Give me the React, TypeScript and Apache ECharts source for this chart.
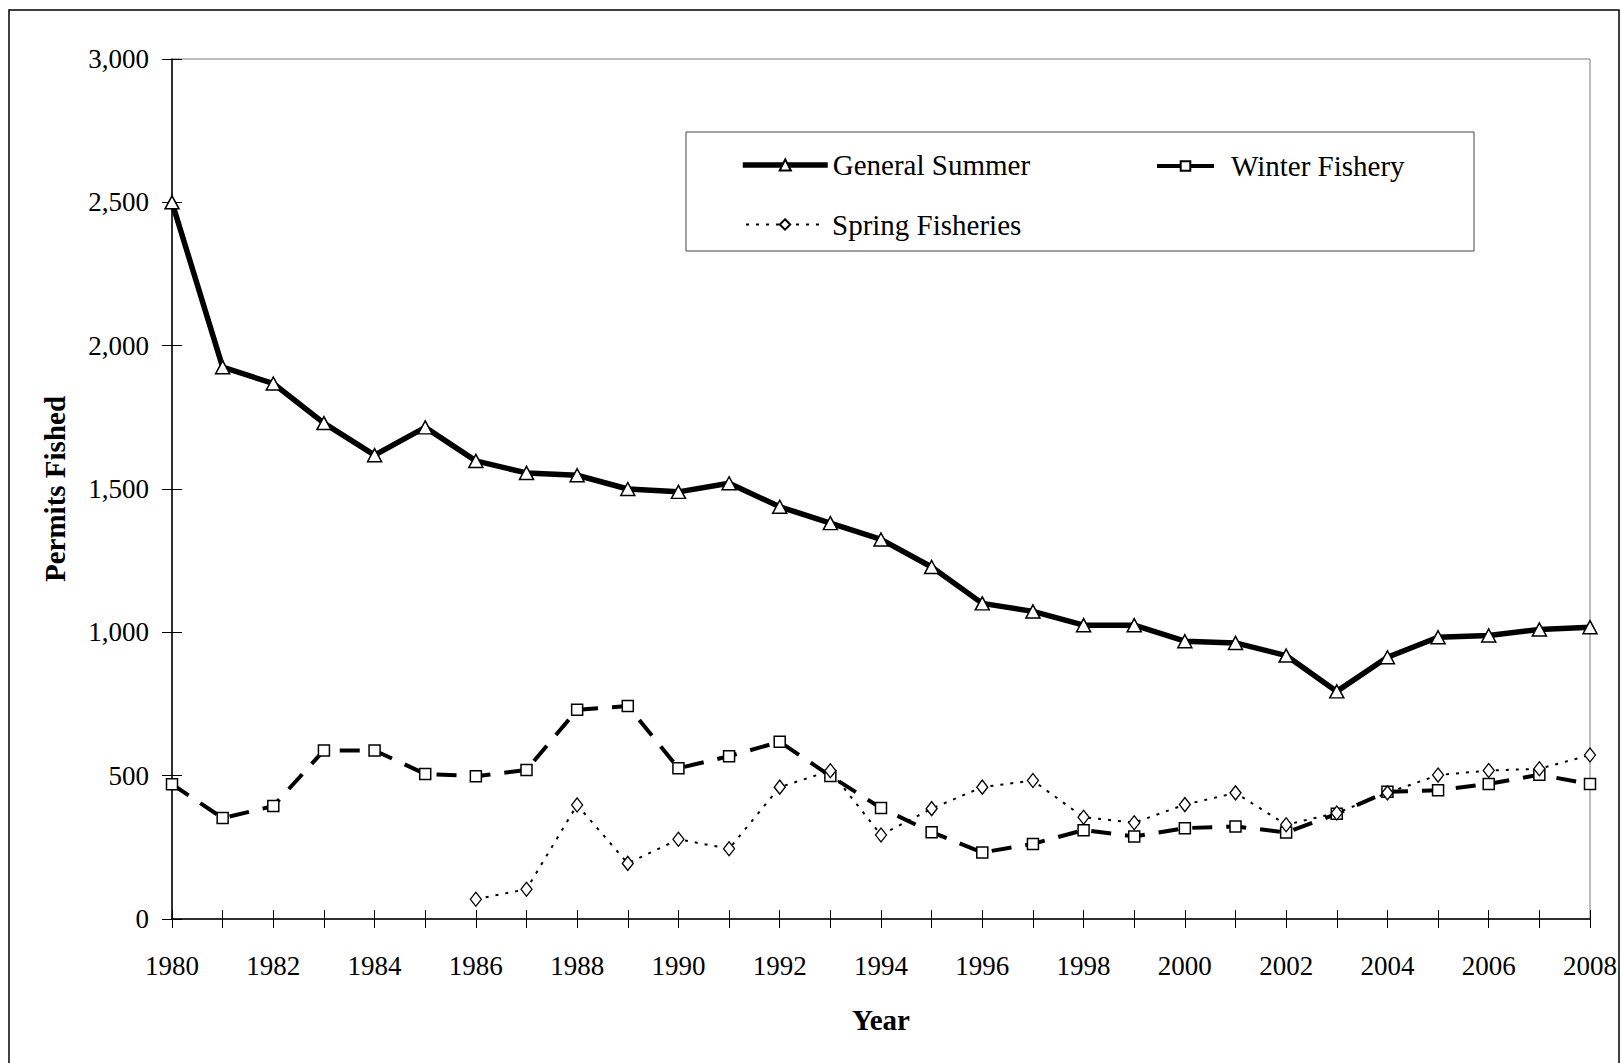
import React, { useEffect, useRef } from "react";
import * as echarts from "echarts";

const years = [
  "1980", "1981", "1982", "1983", "1984", "1985", "1986", "1987", "1988", "1989",
  "1990", "1991", "1992", "1993", "1994", "1995", "1996", "1997", "1998", "1999",
  "2000", "2001", "2002", "2003", "2004", "2005", "2006", "2007", "2008",
];

const generalSummer = [
  2500, 1925, 1868, 1730, 1618, 1715, 1598, 1556, 1548, 1500,
  1490, 1520, 1438, 1381, 1324, 1228, 1101, 1073, 1025, 1025,
  969, 963, 919, 794, 913, 983, 989, 1010, 1018,
];

const winterFishery = [
  470, 352, 394, 588, 588, 506, 498, 520, 730, 743,
  526, 568, 618, 499, 387, 303, 232, 262, 310, 288,
  317, 323, 302, 367, 444, 449, 471, 503, 471,
];

const springFisheries = [
  null, null, null, null, null, null, 69, 104, 398, 194,
  278, 245, 460, 517, 293, 385, 460, 483, 355, 336,
  399, 440, 329, 370, 440, 502, 518, 524, 572,
];

const yTicks = [0, 500, 1000, 1500, 2000, 2500, 3000];

const FONT = '"Liberation Serif", "Times New Roman", serif';

export default function App() {
  const ref = useRef<HTMLDivElement>(null);

  useEffect(() => {
    const chart = echarts.init(ref.current!, undefined, { renderer: "svg" });
    const yMin = yTicks[0];
    const yMax = yTicks[yTicks.length - 1];
    const yStep = yTicks[1] - yTicks[0];

    const legendText = { fontFamily: FONT, fontSize: 29, color: "#000" };

    const option: any = {
      animation: false,
      backgroundColor: "#fff",
      grid: {
        left: 172,
        right: 32,
        top: 59,
        bottom: 144,
        show: true,
        borderColor: "#7a7a7a",
        borderWidth: 1,
      },
      graphic: [
        {
          type: "rect",
          shape: { x: 9, y: 10, width: 1610, height: 1100 },
          style: { fill: "none", stroke: "#000", lineWidth: 1.5 },
          silent: true,
        },
        {
          type: "rect",
          shape: { x: 686, y: 132, width: 788, height: 119 },
          style: { fill: "#fff", stroke: "#444", lineWidth: 1 },
          silent: true,
          z: 0,
        },
      ],
      legend: [
        {
          data: ["General Summer"],
          left: 740,
          top: 150.5,
          padding: 0,
          itemWidth: 85,
          itemHeight: 14,
          selectedMode: false,
          lineStyle: { type: "solid", width: 5.5, color: "#000" },
          textStyle: legendText,
          z: 5,
        },
        {
          data: ["Winter Fishery"],
          left: 1155,
          top: 151.5,
          padding: 0,
          itemWidth: 57,
          itemHeight: 12,
          selectedMode: false,
          lineStyle: { type: "solid", width: 4, color: "#000" },
          textStyle: { ...legendText, padding: [0, 0, 0, 12] },
          z: 5,
        },
        {
          data: ["Spring Fisheries"],
          left: 745,
          top: 210,
          padding: 0,
          itemWidth: 78,
          itemHeight: 13,
          selectedMode: false,
          lineStyle: { type: [3, 7], width: 2, color: "#000" },
          textStyle: { ...legendText, padding: [0, 0, 0, 3] },
          z: 5,
        },
      ],
      xAxis: [
        {
          type: "category",
          data: years,
          boundaryGap: false,
          position: "bottom",
          name: "Year",
          nameLocation: "middle",
          nameGap: 86,
          nameTextStyle: { fontFamily: FONT, fontSize: 29, fontWeight: "bold", color: "#000" },
          axisLine: { show: true, lineStyle: { color: "#000", width: 1.5 } },
          axisTick: { show: true, inside: false, length: 9, interval: 0, lineStyle: { color: "#000", width: 1 } },
          axisLabel: { interval: 1, margin: 33, fontFamily: FONT, fontSize: 27, color: "#000" },
          splitLine: { show: false },
        },
        {
          type: "category",
          data: years,
          boundaryGap: false,
          position: "bottom",
          axisLine: { show: false },
          axisTick: { show: true, inside: true, length: 9, interval: 0, lineStyle: { color: "#000", width: 1 } },
          axisLabel: { show: false },
          splitLine: { show: false },
        },
      ],
      yAxis: [
        {
          type: "value",
          min: yMin,
          max: yMax,
          interval: yStep,
          position: "left",
          name: "Permits Fished",
          nameLocation: "middle",
          nameGap: 103,
          nameTextStyle: { fontFamily: FONT, fontSize: 29, fontWeight: "bold", color: "#000" },
          axisLine: { show: true, lineStyle: { color: "#000", width: 1.5 } },
          axisTick: { show: true, inside: false, length: 10, lineStyle: { color: "#000", width: 1 } },
          axisLabel: {
            margin: 23,
            fontFamily: FONT,
            fontSize: 27,
            color: "#000",
            formatter: (v: number) => v.toLocaleString("en-US"),
          },
          splitLine: { show: false },
        },
        {
          type: "value",
          min: yMin,
          max: yMax,
          interval: yStep,
          position: "left",
          axisLine: { show: false },
          axisTick: { show: true, inside: true, length: 10, lineStyle: { color: "#000", width: 1 } },
          axisLabel: { show: false },
          splitLine: { show: false },
        },
      ],
      series: [
        {
          name: "General Summer",
          type: "line",
          data: generalSummer,
          symbol: "triangle",
          symbolSize: [14, 13],
          showAllSymbol: true,
          lineStyle: { color: "#000", width: 5.5 },
          itemStyle: { color: "#fff", borderColor: "#000", borderWidth: 1.5 },
          z: 4,
        },
        {
          name: "Winter Fishery",
          type: "line",
          data: winterFishery,
          symbol: "rect",
          symbolSize: [11, 11],
          showAllSymbol: true,
          lineStyle: { color: "#000", width: 4, type: [20, 14] },
          itemStyle: { color: "#fff", borderColor: "#000", borderWidth: 1.5 },
          z: 3,
        },
        {
          name: "Spring Fisheries",
          type: "line",
          data: springFisheries,
          symbol: "diamond",
          symbolSize: [11, 14],
          showAllSymbol: true,
          connectNulls: false,
          lineStyle: { color: "#000", width: 2, type: [3, 7] },
          itemStyle: { color: "#fff", borderColor: "#000", borderWidth: 1.3 },
          z: 5,
        },
      ],
    };

    chart.setOption(option);
    return () => chart.dispose();
  }, []);

  return (
    <div
      ref={ref}
      style={{ position: "fixed", left: 0, top: 0, width: 1622, height: 1063, background: "#fff" }}
    />
  );
}
